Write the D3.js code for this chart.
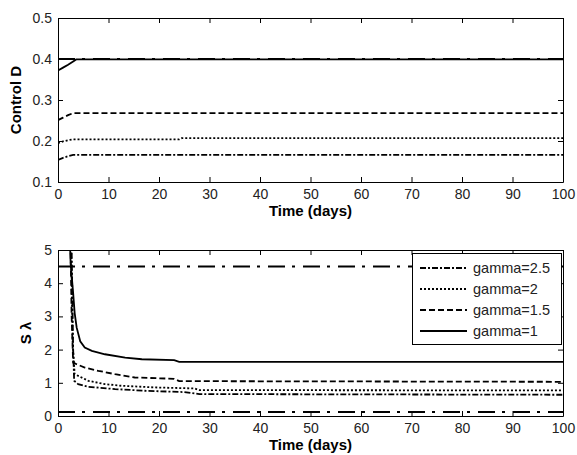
<!DOCTYPE html>
<html>
<head>
<meta charset="utf-8">
<script src="https://cdn.jsdelivr.net/npm/d3@7"></script>
<style>
  body { margin: 0; background: #fff; }
  svg text { font-family: "Liberation Sans", Arial, sans-serif; }
</style>
</head>
<body>
<svg id="drawing_region"></svg>
<script>
// ---- data ----
const xTicks = [0, 10, 20, 30, 40, 50, 60, 70, 80, 90, 100];
const dTicks = [0.1, 0.2, 0.3, 0.4, 0.5];
const sTicks = [0, 1, 2, 3, 4, 5];

const legendLabels = ["gamma=2.5", "gamma=2", "gamma=1.5", "gamma=1"];

// top plot: Control D
const dT1 = [0, 1, 2, 3, 3.6, 5, 100];
const dV1 = [0.372, 0.379, 0.386, 0.394, 0.399, 0.399, 0.399];
const dT15 = [0, 1, 2, 3, 100];
const dV15 = [0.251, 0.257, 0.263, 0.268, 0.268];
const dT2 = [0, 1, 2, 3, 24, 24.5, 100];
const dV2 = [0.195, 0.199, 0.202, 0.204, 0.204, 0.207, 0.207];
const dT25 = [0, 1, 2, 3, 100];
const dV25 = [0.154, 0.159, 0.163, 0.166, 0.166];
const dBound = 0.4;

// bottom plot: S lambda
const sT1 = [2.2, 2.5, 3.0, 3.3, 3.7, 4.4, 5.3, 6.7, 9.3, 13.3, 16.6, 23, 24, 100];
const sV1 = [6, 4.6, 3.7, 3.1, 2.66, 2.25, 2.06, 1.96, 1.86, 1.76, 1.71, 1.68, 1.63, 1.63];
const sT15 = [2.4, 2.7, 3.0, 3.7, 5.3, 8.0, 11.3, 15.2, 23, 24, 100];
const sV15 = [6, 3.0, 1.61, 1.56, 1.46, 1.36, 1.26, 1.16, 1.12, 1.05, 1.03];
const sT2 = [2.5, 2.9, 3.3, 6.0, 9.3, 12.6, 19.2, 27, 28, 100];
const sV2 = [6, 2.2, 1.26, 1.06, 0.96, 0.91, 0.86, 0.83, 0.78, 0.77];
const sT25 = [2.6, 3.0, 3.2, 4.0, 6.0, 11.3, 17.2, 25, 28, 100];
const sV25 = [6, 2.0, 1.06, 0.96, 0.88, 0.81, 0.76, 0.72, 0.66, 0.64];
const sBoundHi = 4.5;
const sBoundLo = 0.12;

const zip = (t, v) => t.map((d, i) => ({ t: d, v: v[i] }));

const W = 577, H = 455;
const svg = d3.select('#drawing_region').attr('width', W).attr('height', H);

const styles = {
  dashdot: '6,2,2,2',
  dotted: '2,2',
  dashed: '6,3',
  solid: null,
  bound: '17,7,3,8'
};

function panel(cfg) {
  const g = svg.append('g');
  const x = d3.scaleLinear().domain([0, 100]).range([cfg.left, cfg.right]);
  const y = d3.scaleLinear().domain(cfg.ydomain).range([cfg.bottom, cfg.top]);

  const clipId = 'clip' + cfg.id;
  svg.append('clipPath').attr('id', clipId)
    .append('rect')
    .attr('x', cfg.left).attr('y', cfg.top)
    .attr('width', cfg.right - cfg.left).attr('height', cfg.bottom - cfg.top);

  const line = d3.line().x(d => x(d.t)).y(d => y(d.v));
  const lines = g.append('g').attr('clip-path', `url(#${clipId})`);

  cfg.series.forEach(s => {
    lines.append('path')
      .attr('d', line(s.data))
      .attr('fill', 'none')
      .attr('stroke', '#000')
      .attr('stroke-width', s.width || 1.8)
      .attr('stroke-dasharray', s.dash);
  });

  // axes with inward ticks (box style)
  const bottomAxis = d3.axisBottom(x).tickValues(xTicks).tickSize(-5).tickPadding(7).tickSizeOuter(0);
  const topAxis = d3.axisTop(x).tickValues(xTicks).tickSize(-5).tickFormat('').tickSizeOuter(0);
  const leftAxis = d3.axisLeft(y).tickValues(cfg.yticks).tickSize(-5).tickPadding(6).tickFormat(cfg.fmt).tickSizeOuter(0);
  const rightAxis = d3.axisRight(y).tickValues(cfg.yticks).tickSize(-5).tickFormat('').tickSizeOuter(0);

  const gb = g.append('g').attr('transform', `translate(0,${cfg.bottom})`).call(bottomAxis);
  const gt = g.append('g').attr('transform', `translate(0,${cfg.top})`).call(topAxis);
  const gl = g.append('g').attr('transform', `translate(${cfg.left},0)`).call(leftAxis);
  const gr = g.append('g').attr('transform', `translate(${cfg.right},0)`).call(rightAxis);

  [gb, gt, gl, gr].forEach(a => {
    a.selectAll('path').attr('stroke', '#000').attr('stroke-width', 1);
    a.selectAll('line').attr('stroke', '#000');
    a.selectAll('text').attr('font-size', '14px').attr('fill', '#222')
      .attr('font-family', '"Liberation Sans", Arial, sans-serif');
  });

  g.append('text')
    .attr('x', (cfg.left + cfg.right) / 2)
    .attr('y', cfg.bottom + 34)
    .attr('text-anchor', 'middle')
    .attr('font-size', '15px')
    .attr('font-weight', 'bold')
    .text('Time (days)');

  return { g, x, y };
}

const topPanel = panel({
  id: 1, left: 58, right: 563, top: 18, bottom: 182,
  ydomain: [0.1, 0.5], yticks: dTicks, fmt: d3.format('.1f'),
  series: [
    { data: zip([0, 100], [dBound, dBound]), dash: styles.bound, width: 2 },
    { data: zip(dT25, dV25), dash: styles.dashdot },
    { data: zip(dT2, dV2), dash: styles.dotted },
    { data: zip(dT15, dV15), dash: styles.dashed },
    { data: zip(dT1, dV1), dash: styles.solid }
  ]
});

topPanel.g.append('text')
  .attr('transform', `translate(21, ${(18 + 182) / 2}) rotate(-90)`)
  .attr('text-anchor', 'middle')
  .attr('font-size', '15px')
  .attr('font-weight', 'bold')
  .text('Control D');

const botPanel = panel({
  id: 2, left: 58, right: 563, top: 250, bottom: 416,
  ydomain: [0, 5], yticks: sTicks, fmt: d3.format('d'),
  series: [
    { data: zip([0, 100], [sBoundHi, sBoundHi]), dash: styles.bound, width: 2 },
    { data: zip([0, 100], [sBoundLo, sBoundLo]), dash: styles.bound, width: 2 },
    { data: zip(sT25, sV25), dash: styles.dashdot },
    { data: zip(sT2, sV2), dash: styles.dotted },
    { data: zip(sT15, sV15), dash: styles.dashed },
    { data: zip(sT1, sV1), dash: styles.solid }
  ]
});

botPanel.g.append('text')
  .attr('transform', `translate(31, ${(250 + 416) / 2}) rotate(-90)`)
  .attr('text-anchor', 'middle')
  .attr('font-size', '15px')
  .attr('font-weight', 'bold')
  .text('S λ');

// legend
const legDash = [styles.dashdot, styles.dotted, styles.dashed, styles.solid];
const leg = svg.append('g');
leg.append('rect')
  .attr('x', 412.5).attr('y', 253.5).attr('width', 149).attr('height', 91)
  .attr('fill', '#fff').attr('stroke', '#000').attr('stroke-width', 1);

const legY = d3.scalePoint().domain(legendLabels).range([268, 331]);
legendLabels.forEach((lab, i) => {
  leg.append('line')
    .attr('x1', 420).attr('x2', 467)
    .attr('y1', legY(lab)).attr('y2', legY(lab))
    .attr('stroke', '#000').attr('stroke-width', 1.8)
    .attr('stroke-dasharray', legDash[i]);
  leg.append('text')
    .attr('x', 473).attr('y', legY(lab) + 5)
    .attr('font-size', '14.5px').attr('fill', '#222')
    .text(lab);
});
</script>
</body>
</html>
